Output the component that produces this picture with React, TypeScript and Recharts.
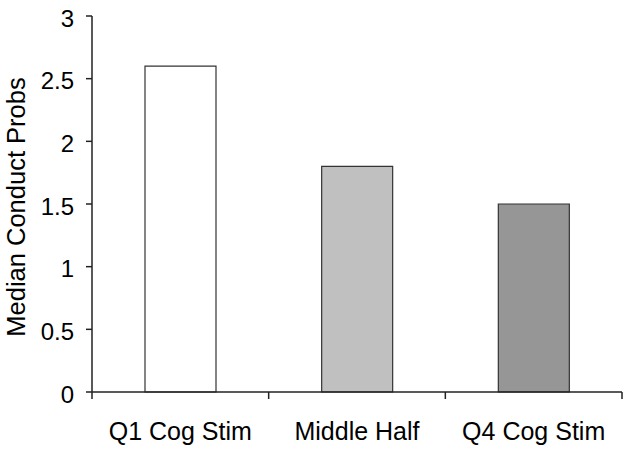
import React from 'react';
import { BarChart, Bar, XAxis, YAxis, Cell } from 'recharts';

const categories = ['Q1 Cog Stim', 'Middle Half', 'Q4 Cog Stim'];
const medianConduct = [2.6, 1.8, 1.5];
const barColors = ['#ffffff', '#c0c0c0', '#969696'];
const yTicks = [0, 0.5, 1, 1.5, 2, 2.5, 3];
const yTitle = 'Median Conduct Probs';

const data = categories.map((name, i) => ({ name, value: medianConduct[i] }));

const FONT = '"Liberation Sans", Arial, sans-serif';
const AXIS = '#222';

// Excel-style category ticks: lines sit between categories, labels in the middle
const CategoryTick = (props: any) => {
  const { x, y, payload, index } = props;
  const half = payload.offset || 0;
  const last = index === categories.length - 1;
  return (
    <g>
      <line x1={x - half} x2={x - half} y1={y} y2={y + 7} stroke={AXIS} strokeWidth={1.5} />
      {last && <line x1={x + half} x2={x + half} y1={y} y2={y + 7} stroke={AXIS} strokeWidth={1.5} />}
      <text x={x} y={y + 30} dy="0.71em" textAnchor="middle" fontSize={25} fontFamily={FONT} fill="#000">
        {payload.value}
      </text>
    </g>
  );
};

const YTitle = (props: any) => {
  const { viewBox } = props;
  const cx = 25;
  const cy = viewBox.y + viewBox.height / 2 + 3;
  return (
    <text
      x={cx}
      y={cy}
      transform={`rotate(-90, ${cx}, ${cy})`}
      textAnchor="middle"
      fontSize={25.5}
      fontFamily={FONT}
      fill="#000"
    >
      {yTitle}
    </text>
  );
};

const App: React.FC = () => {
  return (
    <div style={{ position: 'absolute', left: 0, top: 0, background: '#fff' }}>
      <BarChart
        width={629}
        height={453}
        data={data}
        margin={{ top: 16, right: 7, left: 0, bottom: 0 }}
        barCategoryGap="30%"
      >
        <XAxis
          dataKey="name"
          height={61}
          tickLine={false}
          tickSize={0}
          tickMargin={0}
          interval={0}
          tick={<CategoryTick />}
          axisLine={{ stroke: AXIS, strokeWidth: 1.5 }}
        />
        <YAxis
          width={92}
          domain={[0, 3]}
          ticks={yTicks}
          interval={0}
          tickSize={6}
          tickMargin={12}
          tick={{ fontSize: 24, fontFamily: FONT, fill: '#000', dy: 2 }}
          tickLine={{ stroke: AXIS, strokeWidth: 1.5 }}
          axisLine={{ stroke: AXIS, strokeWidth: 1.5 }}
          label={<YTitle />}
        />
        <Bar dataKey="value" stroke="#333" strokeWidth={1.2} isAnimationActive={false}>
          {data.map((d, i) => (
            <Cell key={d.name} fill={barColors[i]} />
          ))}
        </Bar>
      </BarChart>
    </div>
  );
};

export default App;
